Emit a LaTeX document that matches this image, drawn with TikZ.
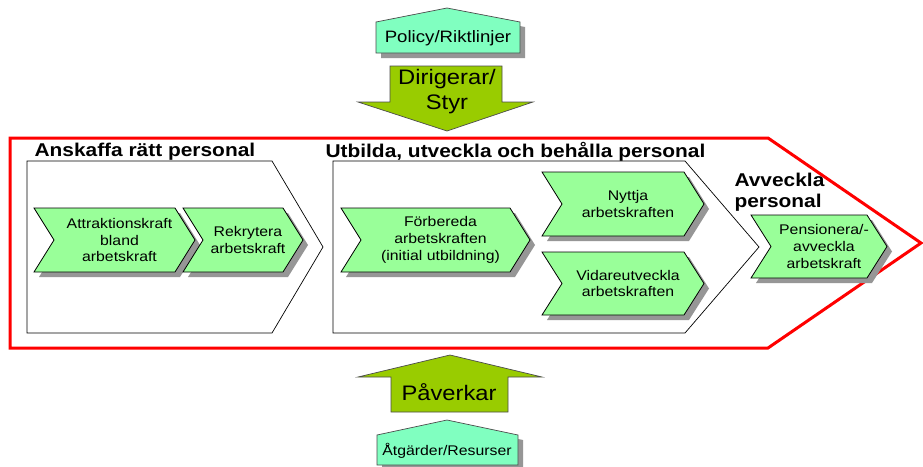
\documentclass[tikz,border=0pt]{standalone}
\usepackage{fontspec}
\setmainfont{Liberation Sans}[FakeStretch=1.13]
\definecolor{chevgreen}{RGB}{153,255,153}
\definecolor{housegreen}{RGB}{128,255,192}
\definecolor{arrowgreen}{RGB}{153,204,0}
\definecolor{shadowgray}{RGB}{150,150,150}
\tikzset{
  chevfill/.style={fill=chevgreen,draw=black,line width=0.8pt},
  chevtext/.style={align=center,font=\fontsize{14}{16.7}\selectfont},
  panel/.style={fill=white,draw=black,line width=0.7pt},
  title/.style={anchor=west,font=\fontsize{18.5}{21}\selectfont\bfseries},
  bigarrow/.style={fill=arrowgreen,draw=black!70,line width=0.7pt},
  house/.style={fill=housegreen,draw=black!70,line width=0.7pt}
}
% green chevron with shadow: name, left, top, right, bottom, text
\newcommand{\chev}[6]{%
  \fill[shadowgray] (#2+5,#3+5) -- (#4+5,#3+5) -- (#4+25,{(#3+#5)/2+5}) -- (#4+5,#5+5)
    -- (#2+5,#5+5) -- (#2+25,{(#3+#5)/2+5}) -- cycle;
  \draw[chevfill] (#2,#3) -- (#4,#3) -- (#4+20,{(#3+#5)/2}) -- (#4,#5)
    -- (#2,#5) -- (#2+20,{(#3+#5)/2}) -- cycle;
  \node[chevtext] (#1) at ({(#2+#4)/2+15},{(#3+#5)/2}) {#6};}
\begin{document}
\begin{tikzpicture}[x=1pt,y=-1pt]
\useasboundingbox[fill=white] (0,0) rectangle (923,466);

% top: policy and arrow down
\fill[shadowgray] (381,27) -- (452,13) -- (525,27) -- (525,58) -- (381,58) -- cycle;
\draw[house] (376,22) -- (447,8) -- (520,22) -- (520,53) -- (376,53) -- cycle;
\node[font=\fontsize{16.5}{19}\selectfont] (policy) at (448,38) {Policy/Riktlinjer};
\draw[bigarrow] (390,66) -- (502,66) -- (502,102) -- (533,102) -- (447,131) -- (358,102) -- (390,102) -- cycle;
\node[align=center,font=\fontsize{21}{25}\selectfont] (styr) at (447,92) {Dirigerar/\\Styr};

% outer red arrow
\draw[red,line width=3pt,fill=white] (10,138) -- (768,138) -- (921,243) -- (768,348) -- (10,348) -- cycle;

% panels
\draw[panel] (27,161) -- (272,161) -- (323,247) -- (272,333) -- (27,333) -- cycle;
\draw[panel] (333,161) -- (685,161) -- (759,247) -- (685,333) -- (333,333) -- cycle;
\node[title] (anskaffa) at (31,152) {Anskaffa rätt personal};
\node[title] (utbilda) at (322,152) {Utbilda, utveckla och behålla personal};
\node[anchor=north west,align=left,font=\fontsize{18.5}{21}\selectfont\bfseries] (avveckla) at (731,170) {Avveckla\\personal};

% chevrons
\chev{attraktion}{34}{208}{175}{272}{Attraktionskraft\\bland\\arbetskraft}
\chev{rekrytera}{183}{208}{283}{272}{Rekrytera\\arbetskraft}
\chev{forbereda}{341}{208}{510}{272}{Förbereda\\arbetskraften\\(initial utbildning)}
\chev{nyttja}{542}{172}{684}{236}{Nyttja\\arbetskraften}
\chev{vidare}{542}{252}{684}{315}{Vidareutveckla\\arbetskraften}
\chev{pension}{751}{215}{867}{278}{Pensionera/-\\avveckla\\arbetskraft}

% bottom: arrow up and resources
\draw[bigarrow] (391,412) -- (508,412) -- (508,377) -- (542,377) -- (450,355) -- (358,377) -- (391,377) -- cycle;
\node[font=\fontsize{21}{25}\selectfont] (paverkar) at (449,392) {Påverkar};
\fill[shadowgray] (382,440) -- (452,425) -- (523,440) -- (523,470) -- (382,470) -- cycle;
\draw[house] (377,435) -- (447,420) -- (518,435) -- (518,465) -- (377,465) -- cycle;
\node[font=\fontsize{14}{17}\selectfont] (atgarder) at (447,451) {Åtgärder/Resurser};
\end{tikzpicture}
\end{document}
